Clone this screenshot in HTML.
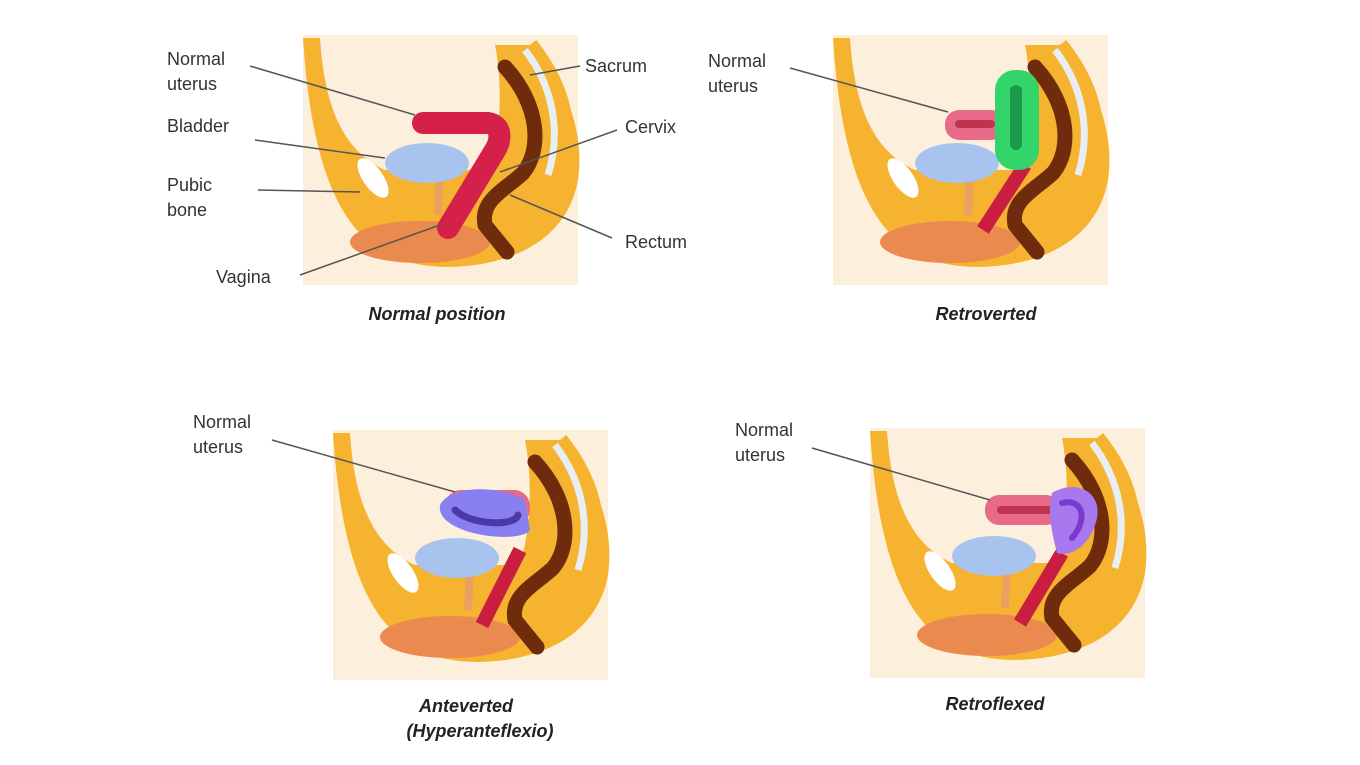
<!DOCTYPE html>
<html><head><meta charset="utf-8"><style>
html,body{margin:0;padding:0;background:#fff;}
svg{display:block}
text{font-family:"Liberation Sans",sans-serif;fill:#333;font-size:18px}
.cap{font-weight:bold;font-style:italic;fill:#222}
</style></head><body>
<svg width="1360" height="765" viewBox="0 0 1360 765" xmlns="http://www.w3.org/2000/svg">
<defs>
<g id="base">
  <rect x="13" y="5" width="275" height="250" fill="#fcf0dc"/>
  <path d="M13,8 L30,8 C34,70 50,120 95,140 L200,140 C212,100 212,50 205,15 L240,15 C275,50 295,100 288,150 C278,205 230,235 160,237 C80,237 25,195 13,8Z" fill="#f5b330"/>
  <path d="M240,15 C272,55 285,100 268,150" fill="none" stroke="#f5b330" stroke-width="16"/>
  <path d="M235,20 C262,55 272,100 258,145" fill="none" stroke="#e9eef4" stroke-width="7"/>
  <ellipse cx="130" cy="212" rx="70" ry="21" fill="#eb8a4e"/>
  <ellipse cx="83" cy="148" rx="10" ry="23" transform="rotate(-35 83 148)" fill="#fff"/>
  <path d="M150,140 L148,185" stroke="#e9a060" stroke-width="8"/>
  <ellipse cx="137" cy="133" rx="42" ry="20" fill="#a8c4ee"/>
  <path d="M215,37 C250,75 252,120 233,143 C215,160 190,170 195,195 L217,222" fill="none" stroke="#6e2c0c" stroke-width="15" stroke-linecap="round"/>
</g>
</defs>

<!-- Panel 1 -->
<g transform="translate(290,30)">
  <use href="#base"/>
  <path d="M133,93 L198,93 C212,95 212,110 204,122 L158,198" fill="none" stroke="#d6204c" stroke-width="22" stroke-linecap="round"/>
</g>
<!-- Panel 2 -->
<g transform="translate(820,30)">
  <use href="#base"/>
  <path d="M205,135 L163,200" fill="none" stroke="#c91e40" stroke-width="14"/>
  <rect x="125" y="80" width="60" height="30" rx="14" fill="#e76b86"/>
  <rect x="135" y="90" width="40" height="8" rx="4" fill="#c0334f"/>
  <rect x="175" y="40" width="44" height="100" rx="20" fill="#33d46a"/>
  <rect x="190" y="55" width="12" height="65" rx="6" fill="#1a9a48"/>
</g>
<!-- Panel 3 -->
<g transform="translate(320,425)">
  <use href="#base"/>
  <path d="M200,125 L162,200" fill="none" stroke="#c91e40" stroke-width="14"/>
  <rect x="125" y="65" width="85" height="35" rx="16" fill="#e76b86"/>
  <path d="M120,80 C115,110 200,120 210,105 L205,75 C180,60 130,60 120,80Z" fill="#8a7ff0"/>
  <path d="M135,85 C150,100 195,102 198,90" fill="none" stroke="#4a3aa8" stroke-width="7" stroke-linecap="round"/>
</g>
<!-- Panel 4 -->
<g transform="translate(857,423)">
  <use href="#base"/>
  <path d="M205,130 L163,200" fill="none" stroke="#c91e40" stroke-width="14"/>
  <rect x="128" y="72" width="75" height="30" rx="14" fill="#e76b86"/>
  <rect x="140" y="83" width="55" height="8" rx="4" fill="#c0334f"/>
  <path d="M195,70 C220,55 245,70 240,95 C235,120 215,135 200,130 C195,110 190,90 195,70Z" fill="#a878ee"/>
  <path d="M205,80 C225,75 232,95 215,115" fill="none" stroke="#7a3ad0" stroke-width="6" stroke-linecap="round"/>
</g>

<!-- leader lines -->
<g stroke="#555" stroke-width="1.5">
  <line x1="250" y1="66" x2="415" y2="115"/>
  <line x1="255" y1="140" x2="385" y2="158"/>
  <line x1="258" y1="190" x2="360" y2="192"/>
  <line x1="300" y1="275" x2="440" y2="225"/>
  <line x1="580" y1="66" x2="530" y2="75"/>
  <line x1="617" y1="130" x2="500" y2="172"/>
  <line x1="612" y1="238" x2="510" y2="195"/>
  <line x1="790" y1="68" x2="948" y2="112"/>
  <line x1="272" y1="440" x2="455" y2="492"/>
  <line x1="812" y1="448" x2="990" y2="500"/>
</g>

<text x="167" y="65">Normal</text><text x="167" y="90">uterus</text>
<text x="167" y="132">Bladder</text>
<text x="167" y="191">Pubic</text><text x="167" y="216">bone</text>
<text x="216" y="283">Vagina</text>
<text x="585" y="72">Sacrum</text>
<text x="625" y="133">Cervix</text>
<text x="625" y="248">Rectum</text>
<text x="708" y="67">Normal</text><text x="708" y="92">uterus</text>
<text x="193" y="428">Normal</text><text x="193" y="453">uterus</text>
<text x="735" y="436">Normal</text><text x="735" y="461">uterus</text>

<text class="cap" x="437" y="320" text-anchor="middle">Normal position</text>
<text class="cap" x="986" y="320" text-anchor="middle">Retroverted</text>
<text class="cap" x="466" y="712" text-anchor="middle">Anteverted</text>
<text class="cap" x="480" y="737" text-anchor="middle">(Hyperanteflexio)</text>
<text class="cap" x="995" y="710" text-anchor="middle">Retroflexed</text>
</svg>
</body></html>
